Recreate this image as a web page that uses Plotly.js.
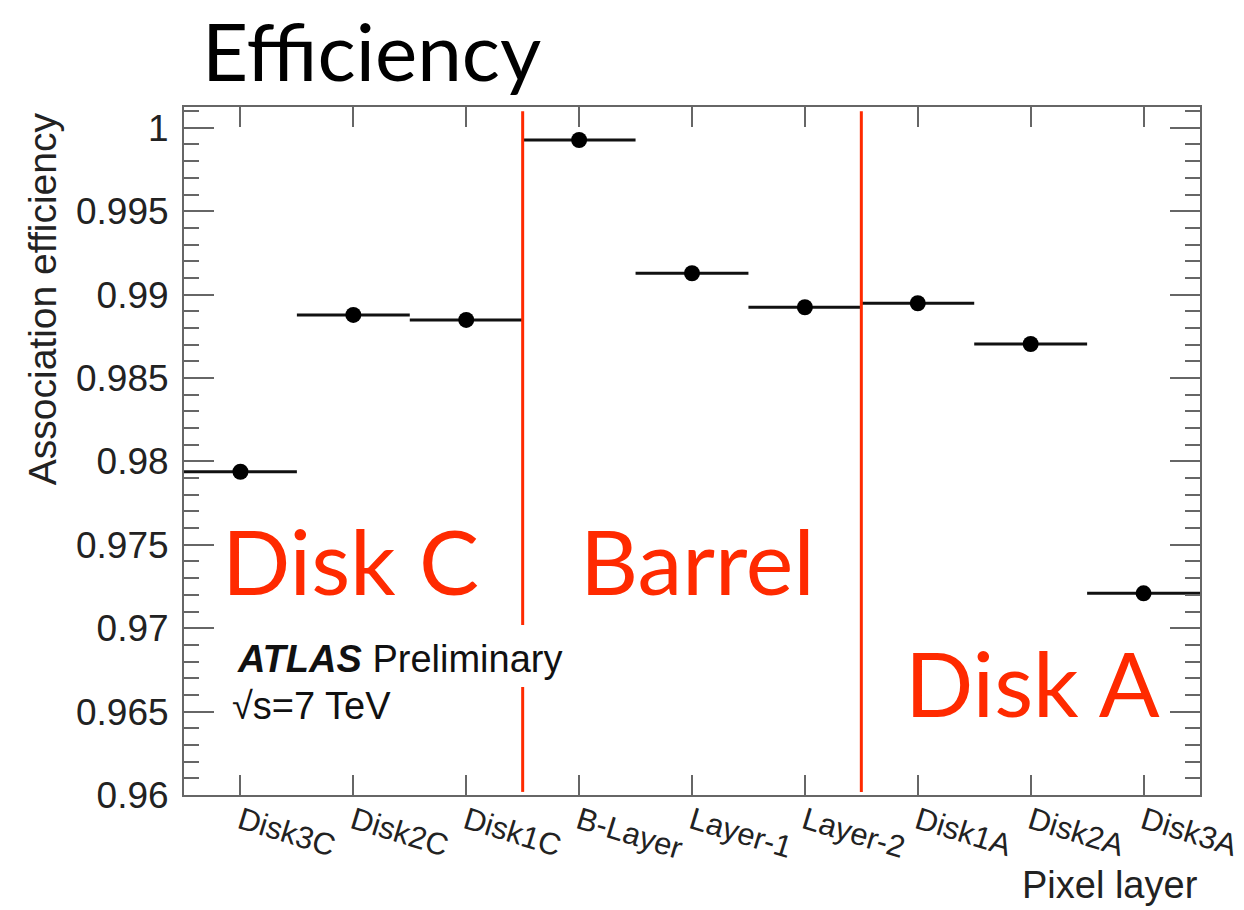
<!DOCTYPE html>
<html>
<head>
<meta charset="utf-8">
<script src="https://cdn.plot.ly/plotly-3.0.1.min.js"></script>
<style>
html,body{margin:0;padding:0;background:#fff;}
#chart{width:1244px;height:910px;}
</style>
</head>
<body>
<div id="chart"></div>
<script>
// Data
const layers = ["Disk3C","Disk2C","Disk1C","B-Layer","Layer-1","Layer-2","Disk1A","Disk2A","Disk3A"];
const efficiency = [0.97938, 0.98878, 0.98848, 0.99927, 0.99128, 0.98924, 0.98948, 0.98704, 0.97209];
const regionLabels = ["Disk C", "Barrel", "Disk A"];
const regionBoundaries = [2.5, 5.5]; // between Disk1C|B-Layer and Layer-2|Disk1A

const idx = layers.map((_, i) => i);
const halfBin = layers.map(() => 0.5);

const RED = "#ff2a00";
const AXIS = "#666666";
const plotFont = "Liberation Sans, Arial, Helvetica, sans-serif";

const trace = {
  type: "scatter",
  mode: "markers",
  x: idx,
  y: efficiency,
  marker: {color: "#000", size: 16},
  error_x: {type: "data", array: halfBin, visible: true, thickness: 3, width: 0, color: "#111"},
  hoverinfo: "x+y",
  showlegend: false
};

const shapes = [];
// First boundary line is interrupted behind the ATLAS label box
shapes.push({type: "line", xref: "x", yref: "paper", x0: regionBoundaries[0], x1: regionBoundaries[0], y0: 0.0045, y1: 0.157, line: {color: RED, width: 3}});
shapes.push({type: "line", xref: "x", yref: "paper", x0: regionBoundaries[0], x1: regionBoundaries[0], y0: 0.247, y1: 0.994, line: {color: RED, width: 3}});
shapes.push({type: "line", xref: "x", yref: "paper", x0: regionBoundaries[1], x1: regionBoundaries[1], y0: 0.0045, y1: 0.994, line: {color: RED, width: 3}});

const redFont = {family: "Lato, Open Sans, sans-serif", size: 90, color: RED};
const annotations = [
  {text: regionLabels[0], xref: "paper", yref: "paper", x: 0.0355, y: 0.342, xanchor: "left", yanchor: "middle", showarrow: false, font: redFont},
  {text: regionLabels[1], xref: "paper", yref: "paper", x: 0.3880, y: 0.342, xanchor: "left", yanchor: "middle", showarrow: false, font: redFont},
  {text: regionLabels[2], xref: "paper", yref: "paper", x: 0.9630, y: 0.164, xanchor: "right", yanchor: "middle", showarrow: false, font: redFont},
  {text: "<b><i>ATLAS</i></b> Preliminary", xref: "paper", yref: "paper", x: 0.050, y: 0.1977, xanchor: "left", yanchor: "middle", showarrow: false,
   font: {family: plotFont, size: 38, color: "#111"}},
  {text: "√s=7 TeV", xref: "paper", yref: "paper", x: 0.045, y: 0.130, xanchor: "left", yanchor: "middle", showarrow: false,
   font: {family: plotFont, size: 38, color: "#111"}},
  {text: "Association efficiency", xref: "paper", yref: "paper", x: -0.1398, y: 0.996, xanchor: "center", yanchor: "top", textangle: -90, showarrow: false,
   font: {family: plotFont, size: 39, color: "#222"}},
  {text: "Pixel layer", xref: "paper", yref: "paper", x: 1.0, y: -0.097, xanchor: "right", yanchor: "top", showarrow: false,
   font: {family: plotFont, size: 38, color: "#222"}}
];

const layout = {
  width: 1244,
  height: 910,
  paper_bgcolor: "#fff",
  plot_bgcolor: "#fff",
  margin: {l: 184, r: 44, t: 107, b: 115},
  title: {text: "Efficiency", xref: "container", yref: "container", x: 0.1624, xanchor: "left", y: 0.9418, yanchor: "middle",
          font: {family: "Lato, Open Sans, sans-serif", size: 80, color: "#000"}},
  xaxis: {
    range: [-0.5, 8.5],
    tickmode: "array",
    tickvals: idx,
    ticktext: layers,
    tickangle: 17,
    ticks: "inside",
    ticklen: 20,
    tickwidth: 2,
    tickcolor: AXIS,
    showline: true,
    linecolor: AXIS,
    linewidth: 2,
    mirror: "allticks",
    showgrid: false,
    zeroline: false,
    ticklabelstandoff: -6,
    tickfont: {family: plotFont, size: 31, color: "#222"}
  },
  yaxis: {
    range: [0.96, 1.001247],
    dtick: 0.005,
    tick0: 0.96,
    ticks: "inside",
    ticklen: 30,
    tickwidth: 2,
    tickcolor: AXIS,
    minor: {dtick: 0.001, ticks: "inside", ticklen: 15, tickwidth: 2, tickcolor: AXIS, showgrid: false},
    showline: true,
    linecolor: AXIS,
    linewidth: 2,
    mirror: "allticks",
    showgrid: false,
    zeroline: false,
    ticklabelstandoff: 6,
    tickfont: {family: plotFont, size: 37, color: "#222"}
  },
  shapes: shapes,
  annotations: annotations
};

Plotly.newPlot("chart", [trace], layout, {displayModeBar: false, staticPlot: true});
</script>
</body>
</html>
